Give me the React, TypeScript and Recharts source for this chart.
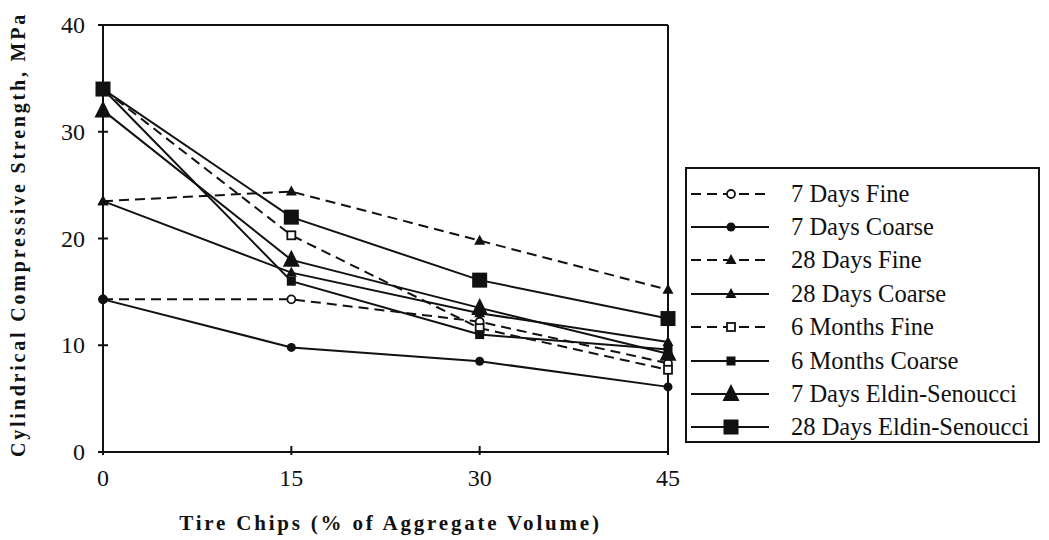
import React from "react";
import { LineChart, Line, XAxis, YAxis, Legend, ReferenceLine } from "recharts";

// tire chip content (% of aggregate volume)
const tireChips = [0, 15, 30, 45];

// cylindrical compressive strength, MPa
const days7Fine = [14.3, 14.3, 12.2, 8.3];
const days7Coarse = [14.3, 9.8, 8.5, 6.1];
const days28Fine = [23.5, 24.4, 19.8, 15.2];
const days28Coarse = [23.5, 16.8, 13.0, 10.3];
const months6Fine = [34, 20.3, 11.6, 7.7];
const months6Coarse = [34, 16.0, 11.0, 9.6];
const eldin7Days = [32, 18, 13.5, 9.2];
const eldin28Days = [34, 22, 16.1, 12.5];

const yTicks = [0, 10, 20, 30, 40];

type Kind = "openCircle" | "circle" | "smallTri" | "openSquare" | "smallSquare" | "bigTri" | "bigSquare";

const series: { key: string; name: string; values: number[]; dashed: boolean; kind: Kind }[] = [
  { key: "d7f", name: "7 Days Fine", values: days7Fine, dashed: true, kind: "openCircle" },
  { key: "d7c", name: "7 Days Coarse", values: days7Coarse, dashed: false, kind: "circle" },
  { key: "d28f", name: "28 Days Fine", values: days28Fine, dashed: true, kind: "smallTri" },
  { key: "d28c", name: "28 Days Coarse", values: days28Coarse, dashed: false, kind: "smallTri" },
  { key: "m6f", name: "6 Months Fine", values: months6Fine, dashed: true, kind: "openSquare" },
  { key: "m6c", name: "6 Months Coarse", values: months6Coarse, dashed: false, kind: "smallSquare" },
  { key: "e7", name: "7 Days Eldin-Senoucci", values: eldin7Days, dashed: false, kind: "bigTri" },
  { key: "e28", name: "28 Days Eldin-Senoucci", values: eldin28Days, dashed: false, kind: "bigSquare" },
];

const data = tireChips.map((x, i) => {
  const row: Record<string, number> = { x };
  series.forEach((s) => (row[s.key] = s.values[i]));
  return row;
});

const INK = "#111";
const DASH = "10 6";
const SERIF = "'Liberation Serif', 'Times New Roman', serif";

function Marker({ kind, cx, cy }: { kind: Kind; cx: number; cy: number }) {
  switch (kind) {
    case "openCircle":
      return <circle cx={cx} cy={cy} r={4} fill="#fff" stroke={INK} strokeWidth={1.8} />;
    case "circle":
      return <circle cx={cx} cy={cy} r={4.5} fill={INK} />;
    case "smallTri":
      return <polygon points={`${cx},${cy - 6} ${cx + 5.5},${cy + 4} ${cx - 5.5},${cy + 4}`} fill={INK} />;
    case "openSquare":
      return <rect x={cx - 4} y={cy - 4} width={8} height={8} fill="#fff" stroke={INK} strokeWidth={1.8} />;
    case "smallSquare":
      return <rect x={cx - 4.5} y={cy - 4.5} width={9} height={9} fill={INK} />;
    case "bigTri":
      return <polygon points={`${cx},${cy - 10} ${cx + 8.5},${cy + 7} ${cx - 8.5},${cy + 7}`} fill={INK} />;
    case "bigSquare":
      return <rect x={cx - 7.5} y={cy - 7.5} width={15} height={15} fill={INK} />;
  }
}

const YTick = (props: any) => {
  const { x, y, payload } = props;
  const ax = x + 18;
  return (
    <g>
      <line x1={ax - 5} x2={ax + 5} y1={y} y2={y} stroke={INK} strokeWidth={2} />
      <text x={x} y={y} textAnchor="end" dominantBaseline="central" fontSize={24} fontFamily={SERIF} fill={INK}>
        {payload.value}
      </text>
    </g>
  );
};

const XTick = (props: any) => {
  const { x, y, payload } = props;
  const ay = y - 26;
  return (
    <g>
      <line x1={x} x2={x} y1={ay - 6} y2={ay + 3} stroke={INK} strokeWidth={2} />
      <text x={x} y={y} textAnchor="middle" dominantBaseline="central" fontSize={24} fontFamily={SERIF} fill={INK}>
        {payload.value}
      </text>
    </g>
  );
};

const LegendBox = () => (
  <div
    style={{
      width: 355,
      height: 276,
      boxSizing: "border-box",
      border: `2px solid ${INK}`,
      background: "#fff",
      paddingTop: 8,
    }}
  >
    {series.map((s) => (
      <div key={s.key} style={{ display: "flex", alignItems: "center", height: 33.4 }}>
        <svg width={100} height={24} style={{ flex: "none" }}>
          <line x1={4} x2={82} y1={12} y2={12} stroke={INK} strokeWidth={2} strokeDasharray={s.dashed ? DASH : undefined} />
          <Marker kind={s.kind} cx={44} cy={12} />
        </svg>
        <span style={{ fontFamily: SERIF, fontSize: 24.5, color: INK, marginLeft: 4, whiteSpace: "nowrap" }}>{s.name}</span>
      </div>
    ))}
  </div>
);

const YTitle = (props: any) => {
  const vb = props.viewBox;
  const cx = vb.x + 10;
  const cy = vb.y + vb.height / 2 - 4;
  return (
    <text
      x={cx}
      y={cy}
      transform={`rotate(-90 ${cx} ${cy})`}
      textAnchor="middle"
      dominantBaseline="central"
      fontSize={20}
      fontWeight="bold"
      fontFamily={SERIF}
      letterSpacing={2.8}
      fill={INK}
    >
      Cylindrical Compressive Strength, MPa
    </text>
  );
};

const XTitle = (props: any) => {
  const vb = props.viewBox;
  return (
    <text
      x={vb.x + vb.width / 2 + 5}
      y={vb.y + 71}
      textAnchor="middle"
      dominantBaseline="central"
      fontSize={21}
      fontWeight="bold"
      fontFamily={SERIF}
      letterSpacing={2.8}
      fill={INK}
    >
      Tire Chips (% of Aggregate Volume)
    </text>
  );
};

export default function App() {
  return (
    <div style={{ background: "#fff" }}>
      <LineChart width={1041} height={532} data={data} margin={{ top: 17, right: 381, bottom: 0, left: 0 }}>
        <XAxis
          dataKey="x"
          type="number"
          domain={[0, 45]}
          ticks={tireChips}
          height={88}
          tickSize={0}
          tickMargin={26}
          tick={<XTick />}
          axisLine={{ stroke: INK, strokeWidth: 2 }}
          label={<XTitle />}
        />
        <YAxis
          type="number"
          domain={[0, 40]}
          ticks={yTicks}
          width={95}
          tickSize={0}
          tickMargin={18}
          tick={<YTick />}
          axisLine={{ stroke: INK, strokeWidth: 2 }}
          label={<YTitle />}
        />
        <ReferenceLine y={40} stroke={INK} strokeWidth={2} />
        <ReferenceLine x={45} stroke={INK} strokeWidth={2} />
        {series.map((s) => (
          <Line
            key={s.key}
            dataKey={s.key}
            name={s.name}
            type="linear"
            stroke={INK}
            strokeWidth={2}
            strokeDasharray={s.dashed ? DASH : undefined}
            isAnimationActive={false}
            dot={(p: any) => <Marker key={`${s.key}-${p.index}`} kind={s.kind} cx={p.cx} cy={p.cy} />}
            activeDot={false}
          />
        ))}
        <Legend
          layout="horizontal"
          align="center"
          verticalAlign="middle"
          content={<LegendBox />}
          wrapperStyle={{ left: 677, top: 159, width: 355, height: 276 }}
        />
      </LineChart>
    </div>
  );
}
